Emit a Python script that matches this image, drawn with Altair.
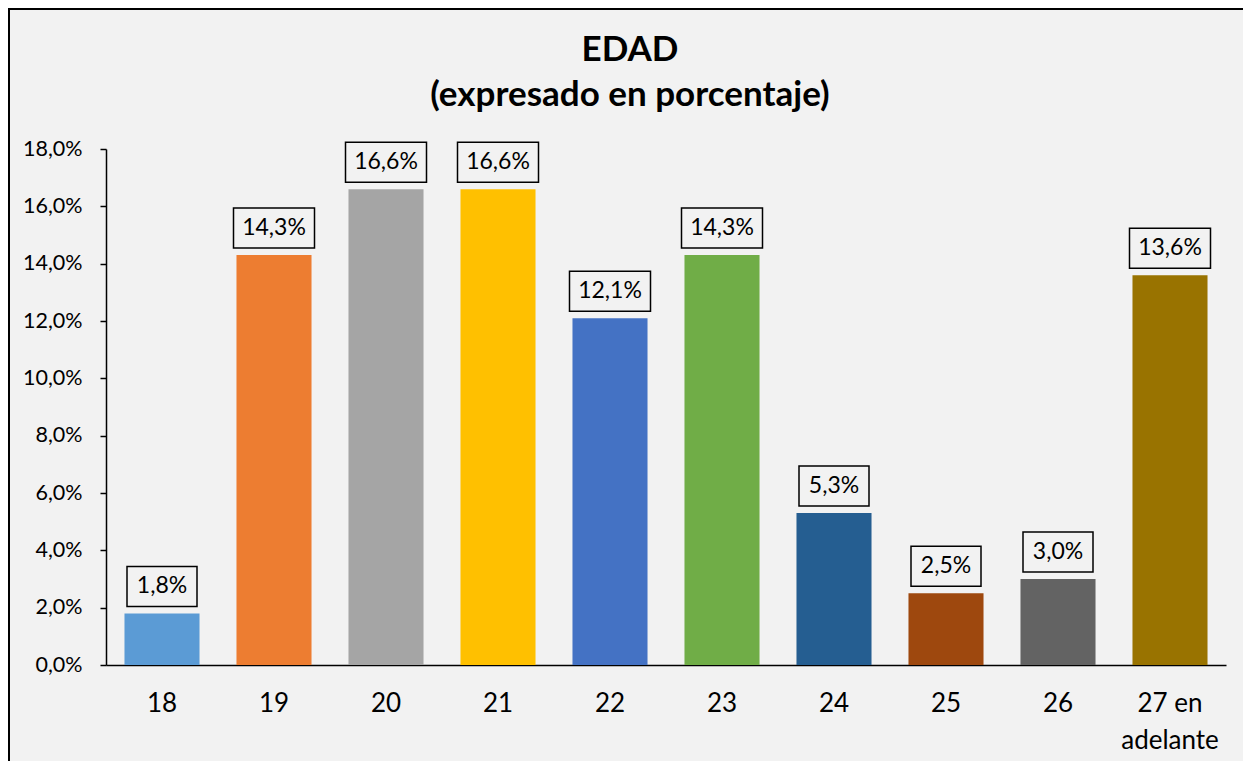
import altair as alt
import pandas as pd

categories = ["18", "19", "20", "21", "22", "23", "24", "25", "26", "27 en adelante"]
values = [1.8, 14.3, 16.6, 16.6, 12.1, 14.3, 5.3, 2.5, 3.0, 13.6]
colors = ["#5B9BD5", "#ED7D31", "#A5A5A5", "#FFC000", "#4472C4",
          "#70AD47", "#255E91", "#9E480E", "#636363", "#997300"]
y_ticks = [0, 2, 4, 6, 8, 10, 12, 14, 16, 18]
title_lines = ["EDAD", "(expresado en porcentaje)"]

FONT = "Lato"
BG = "#f2f2f2"

df = pd.DataFrame({"cat": categories, "val": values, "color": colors})

base = alt.Chart(df).transform_calculate(
    lbl="replace(format(datum.val, '.1f'), '.', ',') + '%'"
)

x_enc = alt.X(
    "cat:N",
    sort=categories,
    scale=alt.Scale(paddingInner=0.33, paddingOuter=0.165),
    axis=alt.Axis(
        title=None,
        labelAngle=0,
        ticks=False,
        domainColor="black",
        domainWidth=1.5,
        labelFontSize=26,
        labelFont=FONT,
        labelColor="black",
        labelPadding=25,
        labelLineHeight=37,
        labelExpr="datum.label == '27 en adelante' ? ['27 en', 'adelante'] : datum.label",
    ),
)

y_scale = alt.Scale(domain=[0, 18], nice=False, zero=True)

bars = base.mark_bar().encode(
    x=x_enc,
    y=alt.Y(
        "val:Q",
        scale=y_scale,
        axis=alt.Axis(
            title=None,
            values=y_ticks,
            grid=False,
            domainColor="black",
            domainWidth=1.5,
            tickColor="black",
            tickWidth=1.5,
            tickSize=6,
            labelFontSize=21.5,
            labelFont=FONT,
            labelColor="black",
            labelPadding=18,
            labelExpr="replace(format(datum.value, '.1f'), '.', ',') + '%'",
        ),
    ),
    color=alt.Color("color:N", scale=None, legend=None),
)

box_short = base.transform_filter("length(datum.lbl) <= 4").mark_bar(
    width=70, fill=BG, stroke="black", strokeWidth=1.5, yOffset=-7, y2Offset=-47
).encode(x=x_enc, y=alt.Y("val:Q", scale=y_scale), y2="val:Q")

box_long = base.transform_filter("length(datum.lbl) > 4").mark_bar(
    width=81, fill=BG, stroke="black", strokeWidth=1.5, yOffset=-7, y2Offset=-47
).encode(x=x_enc, y=alt.Y("val:Q", scale=y_scale), y2="val:Q")

texts = base.mark_text(
    font=FONT, fontSize=23, color="black", baseline="middle", yOffset=-27
).encode(x=x_enc, y=alt.Y("val:Q", scale=y_scale), text="lbl:N")

tdf = pd.DataFrame({"t": [title_lines[0]]})
tdf2 = pd.DataFrame({"t": [title_lines[1]]})
title1 = alt.Chart(tdf).mark_text(
    font=FONT, fontSize=35, fontWeight="bold", color="black", baseline="alphabetic"
).encode(text="t:N", x=alt.value(524), y=alt.value(-88))
title2 = alt.Chart(tdf2).mark_text(
    font=FONT, fontSize=35, fontWeight="bold", color="black", baseline="alphabetic"
).encode(text="t:N", x=alt.value(524), y=alt.value(-43))

bdf = pd.DataFrame({"k": [0]})
border_left = alt.Chart(bdf).mark_rule(color="black", strokeWidth=2).encode(
    x=alt.value(-97), y=alt.value(-140), y2=alt.value(640)
)
border_top = alt.Chart(bdf).mark_rule(color="black", strokeWidth=2).encode(
    x=alt.value(-98), x2=alt.value(1150), y=alt.value(-140)
)

chart = alt.layer(
    bars, box_short, box_long, texts, title1, title2, border_left, border_top
).properties(
    width=1120,
    height=516,
    autosize=alt.AutoSizeParams(type="none"),
    padding={"left": 98, "top": 141, "right": 17, "bottom": 96},
).configure(
    background=BG,
    font=FONT,
).configure_view(stroke=None)

chart.save("out.html", embed_options={"renderer": "svg", "actions": False})
